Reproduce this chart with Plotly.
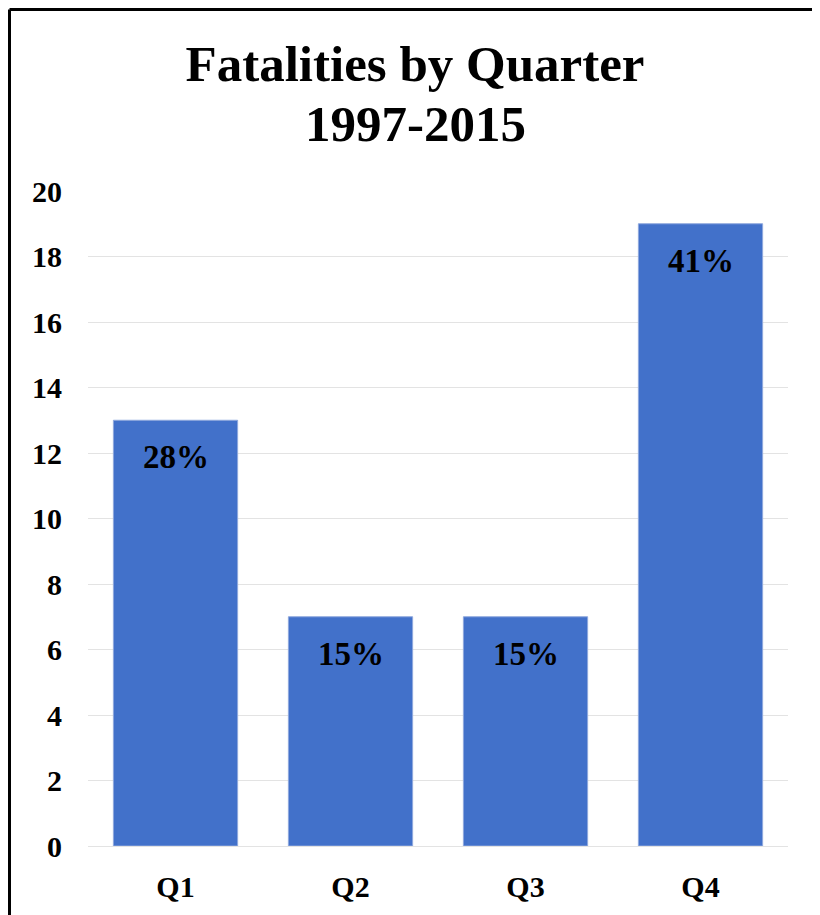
import plotly.graph_objects as go

quarters = ["Q1", "Q2", "Q3", "Q4"]
fatalities = [13, 7, 7, 19]
share_labels = ["28%", "15%", "15%", "41%"]
y_ticks = [0, 2, 4, 6, 8, 10, 12, 14, 16, 18, 20]
title_line1 = "Fatalities by Quarter"
title_line2 = "1997-2015"

FONT = "Liberation Serif, Times New Roman, serif"
L, R, T, B = 80, 40, 183, 77
PW, PH = 820 - L - R, 915 - T - B
TITLE_CX = 407  # horizontal centre of the title, figure pixels

fig = go.Figure(go.Bar(
    x=quarters, y=fatalities,
    marker=dict(color="#4271CA", line=dict(color="#8FA8DD", width=1)),
    hoverinfo="x+y",
))

for q, v, s in zip(quarters, fatalities, share_labels):
    fig.add_annotation(x=q, y=v, text=f"<b>{s}</b>", showarrow=False,
                       xanchor="center", yanchor="top", yshift=-17,
                       font=dict(family=FONT, size=33, color="black"))

fig.add_annotation(xref="paper", yref="paper", x=(TITLE_CX - L) / PW, y=1 + (T - 116) / PH,
                   text=f"<b>{title_line2}</b>", showarrow=False,
                   xanchor="center", yanchor="middle",
                   font=dict(family=FONT, size=51, color="black"))

fig.update_layout(
    width=820, height=915,
    margin=dict(l=L, r=R, t=T, b=B),
    paper_bgcolor="white", plot_bgcolor="white",
    bargap=0.29,
    title=dict(text=f"<b>{title_line1}</b>", x=TITLE_CX / 820, xanchor="center", xref="container",
               y=1 - 55 / 915, yanchor="middle",
               font=dict(family=FONT, size=51, color="black")),
    xaxis=dict(showgrid=False, showline=False, ticks="",
               tickfont=dict(family=FONT, size=30, color="black", weight="bold"),
               ticklabelstandoff=20),
    yaxis=dict(range=[0, 20], tickvals=y_ticks, showgrid=True, gridcolor="#E3E3E3", gridwidth=1,
               zeroline=True, zerolinecolor="#E3E3E3", zerolinewidth=1,
               tickfont=dict(family=FONT, size=30, color="black", weight="bold"),
               ticklabelstandoff=25),
    showlegend=False,
    shapes=[
        dict(type="line", xref="paper", yref="paper", x0=-(L - 1.5) / PW, x1=1 + (R + 10) / PW,
             y0=1 + (T - 1.5) / PH, y1=1 + (T - 1.5) / PH,
             line=dict(color="black", width=3)),
        dict(type="line", xref="paper", yref="paper", x0=-(L - 1.5) / PW, x1=-(L - 1.5) / PW,
             y0=1 + (T - 1.5) / PH, y1=-(B + 10) / PH,
             line=dict(color="black", width=3)),
    ],
)

fig.write_html("out.html")
